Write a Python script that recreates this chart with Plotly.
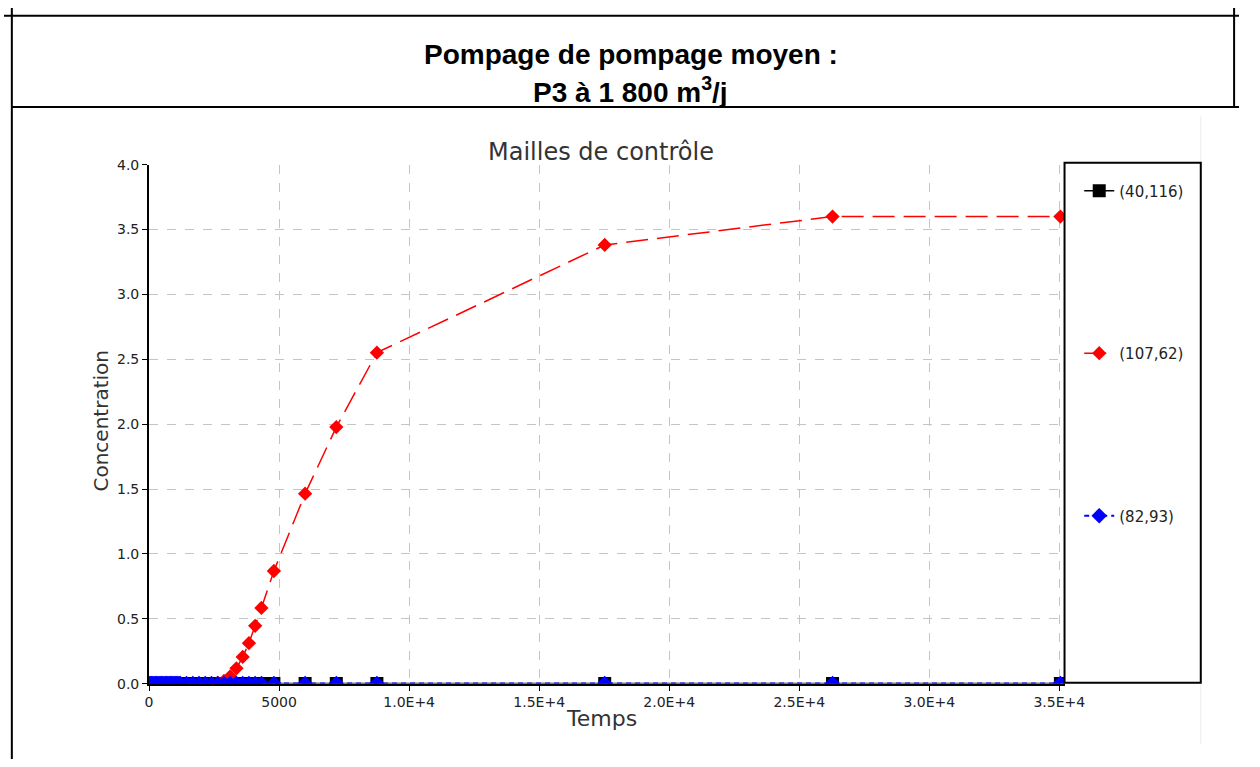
import plotly.graph_objects as go

W, H = 1260, 767

# ---- data (time in hours) ----
times = [0, 48, 96, 144, 192, 240, 288, 336, 384, 432, 480, 528, 576, 624, 672, 720,
         768, 816, 864, 912, 960, 1008, 1056, 1104, 1152, 1200,
         1440, 1680, 1920, 2160, 2400, 2640, 2880, 3120, 3360, 3600, 3840, 4080, 4320,
         4800, 6000, 7200, 8760, 17520, 26280, 35040]

conc_40_116 = [0.0] * 26 + [0.0] * 20
conc_107_62 = [0.0] * 26 + [0.0, 0.0, 0.0, 0.0, 0.0, 0.005, 0.02, 0.055, 0.118, 0.206,
                            0.312, 0.445, 0.583, 0.868, 1.464, 1.977, 2.551, 3.381, 3.600, 3.600]
conc_82_93 = [0.0] * 26 + [0.0] * 20

series_names = ["(40,116)", "(107,62)", "(82,93)"]

x_tickvals = [0, 5000, 10000, 15000, 20000, 25000, 30000, 35000]
x_ticktext = ["0", "5000", "1.0E+4", "1.5E+4", "2.0E+4", "2.5E+4", "3.0E+4", "3.5E+4"]
y_tickvals = [0, 0.5, 1.0, 1.5, 2.0, 2.5, 3.0, 3.5, 4.0]
y_ticktext = ["0.0", "0.5", "1.0", "1.5", "2.0", "2.5", "3.0", "3.5", "4.0"]

# ---- layout geometry (pixels) ----
PL, PR, PT, PB = 148, 1082, 160, 690


def px(x):
    return x / W


def py(y):
    return 1 - y / H


fig = go.Figure()

fig.add_trace(go.Scatter(
    x=times, y=conc_40_116, name=series_names[0], legendgroup="a",
    mode="lines+markers", line=dict(color="black", width=1.6),
    marker=dict(symbol="square", size=13, color="black")))
fig.add_trace(go.Scatter(
    x=times, y=conc_107_62, name=series_names[1], legendgroup="b",
    mode="lines+markers", line=dict(color="#ff0000", width=1.5, dash="22px,9px"),
    marker=dict(symbol="diamond", size=11, color="#ff0000")))
fig.add_trace(go.Scatter(
    x=times, y=conc_82_93, name=series_names[2], legendgroup="c",
    mode="lines+markers", line=dict(color="#0000ff", width=2, dash="5px,4px"),
    marker=dict(symbol="diamond", size=12, color="#0000ff")))

tick_font = dict(family="DejaVu Sans", size=14, color="#222")

shapes = [
    # page frame
    dict(type="line", xref="paper", yref="paper", x0=0, x1=1, y0=py(8), y1=py(8),
         line=dict(color="black", width=2)),
    dict(type="line", xref="paper", yref="paper", x0=px(8), x1=1, y0=py(101), y1=py(101),
         line=dict(color="black", width=2)),
    dict(type="line", xref="paper", yref="paper", x0=px(8), x1=px(8), y0=0, y1=1,
         line=dict(color="black", width=2)),
    dict(type="line", xref="paper", yref="paper", x0=px(1255), x1=px(1255), y0=py(101), y1=1,
         line=dict(color="black", width=2)),
    # faint chart image edge
    dict(type="line", xref="paper", yref="paper", x0=px(1221), x1=px(1221), y0=py(752), y1=py(110),
         line=dict(color="#ececec", width=1)),
    # legend box
    dict(type="rect", xref="paper", yref="paper", x0=px(1082), x1=px(1221), y0=py(689), y1=py(158),
         line=dict(color="black", width=2), fillcolor="rgba(0,0,0,0)"),
]

annotations = [
    dict(text="<b>Pompage de pompage moyen :</b>", x=px(640), y=py(30), xref="paper", yref="paper",
         showarrow=False, font=dict(family="Liberation Sans", size=28, color="black")),
    dict(text="<b>P3 à 1 800 m<sup>3</sup>/j</b>", x=px(639), y=py(63), xref="paper", yref="paper",
         showarrow=False, font=dict(family="Liberation Sans", size=28, color="black")),
    dict(text="Mailles de contrôle", x=px(609), y=py(131), xref="paper", yref="paper",
         showarrow=False, font=dict(family="DejaVu Sans", size=24, color="#333")),
    dict(text="Concentration", x=px(85), y=py(422), xref="paper", yref="paper", textangle=-90,
         showarrow=False, font=dict(family="DejaVu Sans", size=20, color="#333")),
    dict(text="Temps", x=px(610), y=py(740), xref="paper", yref="paper",
         showarrow=False, font=dict(family="DejaVu Sans", size=22, color="#333")),
]

fig.update_layout(
    width=W, height=H, autosize=False,
    margin=dict(l=0, r=0, t=0, b=0),
    paper_bgcolor="white", plot_bgcolor="white",
    shapes=shapes, annotations=annotations,
    showlegend=True,
    legend=dict(x=px(1097), y=py(170), xanchor="left", yanchor="top",
                bgcolor="rgba(0,0,0,0)", borderwidth=0,
                font=dict(family="DejaVu Sans", size=15, color="#222"),
                tracegroupgap=140, itemwidth=30),
    xaxis=dict(domain=[px(PL), px(PR)], range=[0, 35200],
               tickvals=x_tickvals, ticktext=x_ticktext, tickfont=tick_font,
               showgrid=True, gridcolor="#c4c4c4", griddash="dash", gridwidth=1,
               showline=True, linecolor="black", linewidth=2,
               ticks="outside", ticklen=5, tickcolor="black", zeroline=False),
    yaxis=dict(domain=[py(PB), py(PT)], range=[0, 4.0],
               tickvals=y_tickvals, ticktext=y_ticktext, tickfont=tick_font,
               showgrid=True, gridcolor="#c4c4c4", griddash="dash", gridwidth=1,
               showline=True, linecolor="black", linewidth=2,
               ticks="outside", ticklen=5, tickcolor="black", zeroline=False),
)

post = (
    "document.documentElement.style.margin='0';document.body.style.margin='0';"
    "document.documentElement.style.overflow='hidden';document.body.style.overflow='hidden';"
)

fig.write_html("out.html", config={"displayModeBar": False}, post_script=post)
